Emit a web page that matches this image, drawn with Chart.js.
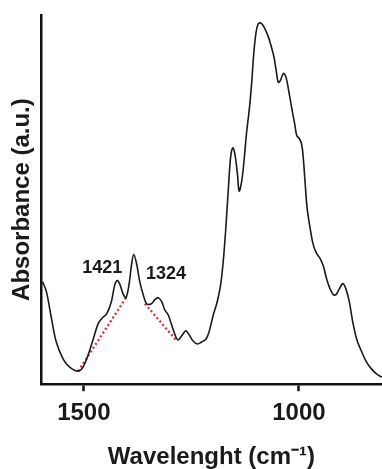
<!DOCTYPE html>
<html>
<head>
<meta charset="utf-8">
<script src="https://cdn.jsdelivr.net/npm/chart.js@4"></script>
<style>
  html, body { margin: 0; padding: 0; background: #fff; }
  #wrap { width: 382px; height: 469px; }
</style>
</head>
<body>
<div id="wrap"><canvas id="irChart"></canvas></div>
<script>
// 波数 (cm-1) 与吸光度
const wavenumbers = [1596, 1587, 1575, 1564, 1548, 1533, 1513, 1502, 1490, 1478, 1467, 1459, 1447, 1436, 1428, 1422,
  1416, 1408, 1402, 1395, 1389, 1384, 1377, 1370, 1362, 1354, 1343, 1335, 1327, 1319, 1312, 1304, 1296, 1288, 1281,
  1271, 1263, 1255, 1246, 1236, 1226, 1216, 1209, 1199, 1190, 1182, 1176, 1170, 1164, 1159, 1154, 1149, 1143, 1139,
  1133, 1127, 1122, 1115, 1110, 1105, 1100, 1095, 1089, 1081, 1071, 1064, 1058, 1053, 1048, 1043, 1036, 1030, 1024,
  1017, 1010, 1005, 999, 994, 990, 986, 981, 974, 967, 959, 951, 943, 936, 928, 920, 914, 906, 898, 891, 883, 875,
  866, 854, 843, 831, 819, 807];
const absorbance = [102, 92, 65, 42, 25, 17, 13, 17, 29, 45, 60, 65, 70, 82, 99, 103,
  99, 89, 86, 99, 119, 129, 119, 102, 89, 80, 80, 84, 86, 82, 74, 69, 59, 49, 44,
  49, 53, 49, 43, 40, 42, 45, 52, 69, 82, 99, 122, 155, 195, 225, 235, 229, 209, 192,
  202, 225, 249, 275, 299, 329, 349, 358, 359, 355, 345, 335, 325, 312, 300, 302, 309, 305, 292,
  275, 259, 247, 244, 239, 225, 202, 175, 155, 139, 130, 125, 117, 105, 95, 89, 89, 95, 100, 95, 82, 62,
  45, 32, 22, 15, 10, 7];

// 红色虚线基线 (两个端点)
const baseline1421 = [[1513, 13], [1402, 86]];
const baseline1324 = [[1358, 80], [1286, 44]];

// 峰标注
const peakLabels = ['1421', '1324'];
const peakLabelPos = [[1457, 115], [1309, 110]];

const xTicks = [1500, 1000];

const toXY = arr => arr.map(p => ({ x: p[0], y: p[1] }));

// 画峰标注的小插件
const peakLabelPlugin = {
  id: 'peakLabels',
  afterDatasetsDraw(chart) {
    const { ctx, scales } = chart;
    ctx.save();
    ctx.font = 'bold 18px "Liberation Sans", Arial, sans-serif';
    ctx.fillStyle = '#1a1a1a';
    ctx.textAlign = 'center';
    ctx.textBaseline = 'middle';
    peakLabels.forEach((txt, i) => {
      const px = scales.x.getPixelForValue(peakLabelPos[i][0]);
      const py = scales.y.getPixelForValue(peakLabelPos[i][1]);
      ctx.fillText(txt, px, py);
    });
    ctx.restore();
  }
};

const ctx = document.getElementById('irChart');

new Chart(ctx, {
  type: 'line',
  data: {
    datasets: [
      {
        label: 'spectrum',
        data: wavenumbers.map((w, i) => ({ x: w, y: absorbance[i] })),
        borderColor: '#1a1a1a',
        borderWidth: 1.6,
        pointRadius: 0,
        tension: 0.35,
        fill: false
      },
      {
        label: 'base1',
        data: toXY(baseline1421),
        borderColor: '#e0252f',
        borderWidth: 2.2,
        borderDash: [2, 2.5],
        pointRadius: 0,
        fill: false
      },
      {
        label: 'base2',
        data: toXY(baseline1324),
        borderColor: '#e0252f',
        borderWidth: 2.2,
        borderDash: [2, 2.5],
        pointRadius: 0,
        fill: false
      }
    ]
  },
  options: {
    responsive: true,
    maintainAspectRatio: false,
    animation: false,
    layout: {
      padding: { left: 0, right: 0, top: 15, bottom: 0 }
    },
    plugins: {
      legend: { display: false },
      tooltip: { enabled: false }
    },
    scales: {
      x: {
        type: 'linear',
        reverse: true,
        min: 807,
        max: 1600,
        afterBuildTicks: axis => {
          axis.ticks = xTicks.map(v => ({ value: v }));
        },
        grid: {
          drawOnChartArea: false,
          drawTicks: true,
          tickLength: 7,
          tickWidth: 2.5,
          tickColor: '#111'
        },
        border: { display: true, color: '#111', width: 2.5 },
        ticks: {
          padding: 8,
          color: '#1a1a1a',
          maxRotation: 0,
          callback: v => String(v),
          font: { family: '"Liberation Sans", Arial, sans-serif', size: 24, weight: 'bold' }
        },
        title: {
          display: true,
          text: 'Wavelenght (cm⁻¹)',
          color: '#1a1a1a',
          padding: { top: 9, bottom: 0 },
          font: { family: '"Liberation Sans", Arial, sans-serif', size: 24, weight: 'bold', lineHeight: 1.0 }
        }
      },
      y: {
        min: 0,
        max: 367,
        grid: { display: false, drawTicks: false },
        border: { display: true, color: '#111', width: 2.5 },
        ticks: { display: false },
        title: {
          display: true,
          text: 'Absorbance (a.u.)',
          color: '#1a1a1a',
          padding: { top: 8, bottom: 4 },
          font: { family: '"Liberation Sans", Arial, sans-serif', size: 24, weight: 'bold' }
        }
      }
    }
  },
  plugins: [peakLabelPlugin]
});
</script>
</body>
</html>
